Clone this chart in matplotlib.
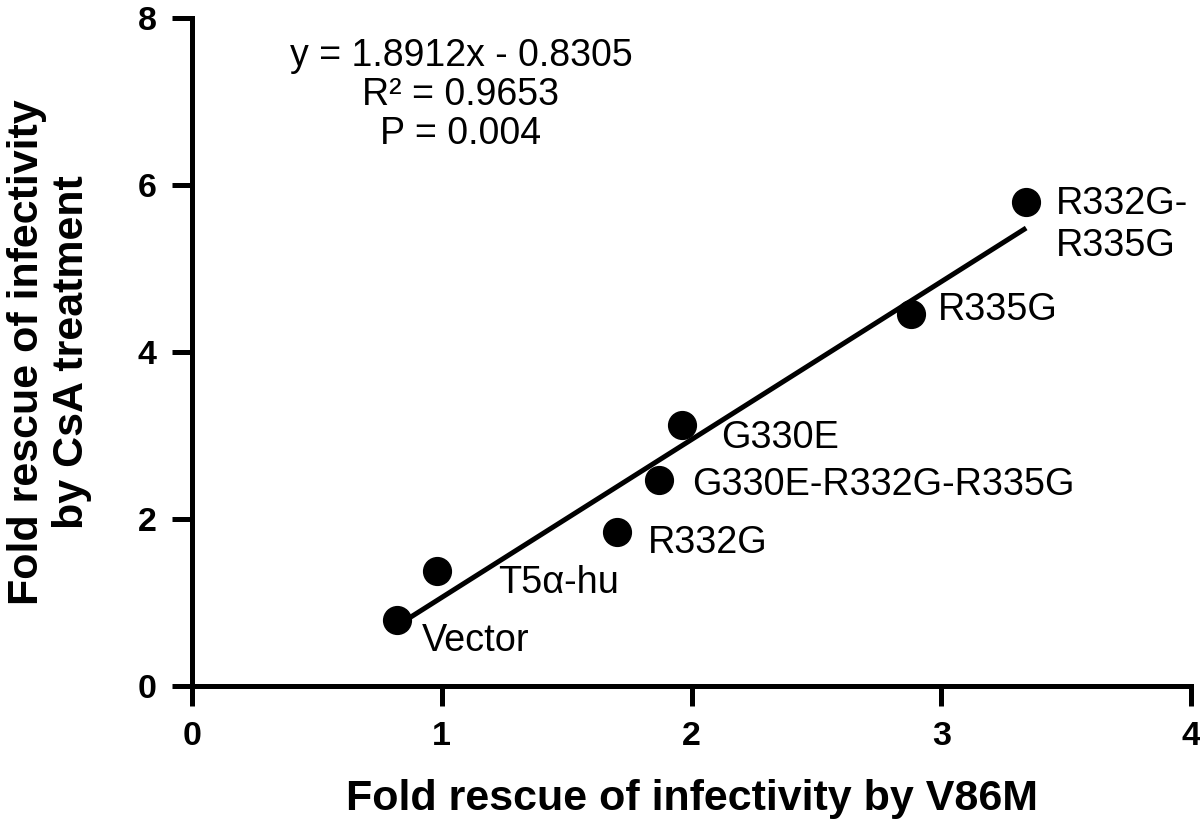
import numpy as np
import matplotlib
matplotlib.use("Agg")
import matplotlib.pyplot as plt

plt.rcParams['font.family'] = ['Liberation Sans', 'DejaVu Sans']

# values
names = ["Vector", "T5\u03b1-hu", "R332G", "G330E-R332G-R335G", "G330E", "R335G", "R332G-\nR335G"]
v86m = np.array([0.82, 0.98, 1.70, 1.87, 1.96, 2.88, 3.34])
csa = np.array([0.79, 1.38, 1.85, 2.47, 3.13, 4.46, 5.80])
slope = 1.8912
intercept = -0.8305
r2_text = "y = 1.8912x - 0.8305\nR\u00b2 = 0.9653\nP = 0.004"

# label offsets from each point, in pixels
label_off = [(25, -21), (61, -12), (31, -11), (33, -5), (40, -13), (27, 4), (30, -23)]

fig = plt.figure(figsize=(12, 8.26), dpi=100)
ax = fig.add_axes([0.16, 0.1695, 0.8325, 0.8085])

lw = 3.6
xl = np.array([v86m.min(), v86m.max()])
ax.plot(xl, slope * xl + intercept, color='black', lw=lw, solid_capstyle='butt', zorder=2)
ax.scatter(v86m, csa, s=400, color='black', zorder=3)

for n, x, y, off in zip(names, v86m, csa, label_off):
	ax.annotate(n, (x, y), xytext=off, textcoords='offset pixels',
		ha='left', va='center', fontsize=27.3, linespacing=1.2)

ax.text(1.077, 7.08, r2_text, ha='center', va='center', fontsize=27,
	multialignment='center', linespacing=1.12)

ax.set_xlim(0, 4)
ax.set_ylim(0, 8)
ax.set_xticks([0, 1, 2, 3, 4])
ax.set_yticks([0, 2, 4, 6, 8])
for s in ['top', 'right']:
	ax.spines[s].set_visible(False)
for s in ['left', 'bottom']:
	ax.spines[s].set_linewidth(lw)
ax.tick_params(direction='out', length=14.4, width=lw, labelsize=24.5, pad=11)
for t in ax.get_xticklabels() + ax.get_yticklabels():
	t.set_fontweight('bold')

ax.set_xlabel('Fold rescue of infectivity by V86M', fontsize=31, fontweight='bold', labelpad=19)
ax.set_ylabel('Fold rescue of infectivity\nby CsA treatment', fontsize=31, fontweight='bold',
	labelpad=33, linespacing=1.15)

plt.savefig('out.png', dpi=100)
